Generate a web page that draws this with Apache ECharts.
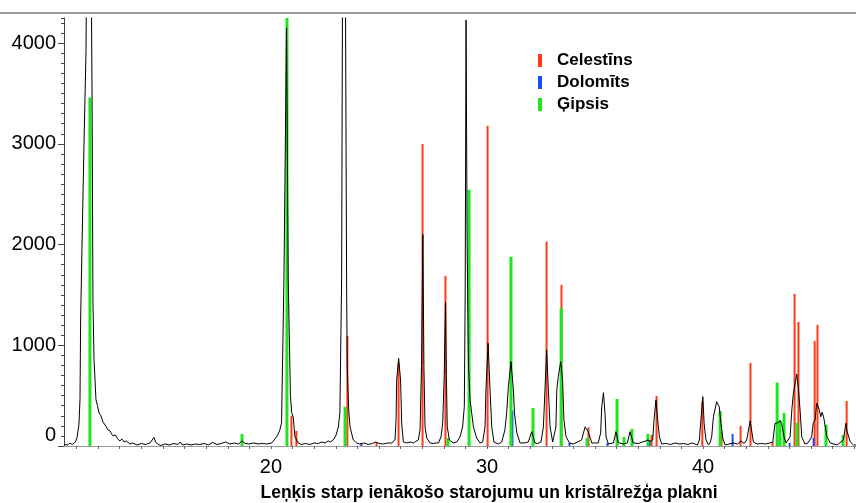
<!DOCTYPE html>
<html>
<head>
<meta charset="utf-8">
<script src="https://cdn.jsdelivr.net/npm/echarts@6/dist/echarts.min.js"></script>
<style>
  html, body { margin: 0; padding: 0; background: #fff; }
  #chart { width: 856px; height: 503px; }
</style>
</head>
<body>
<div id="chart"></div>
<script>
// measured diffraction trace: [2theta, counts]
const trace = [
  [10.42, 15], [10.5, 20], [10.6, 10], [10.7, 30], [10.8, 15], [10.88, 30], [10.95, 40], [11.02, 80],
  [11.11, 210], [11.16, 460], [11.19, 1250], [11.25, 1950], [11.34, 2940], [11.44, 3940], [11.57, 9000],
  [11.69, 4400], [11.72, 3440], [11.76, 1450], [11.81, 860], [11.9, 460], [11.97, 400], [12.04, 330],
  [12.13, 300], [12.22, 240], [12.3, 250], [12.38, 190], [12.45, 160], [12.55, 150], [12.62, 120],
  [12.69, 100], [12.8, 110], [12.9, 70], [13.01, 50], [13.1, 70], [13.2, 40], [13.3, 50], [13.47, 20],
  [13.6, 30], [13.8, 10], [14.0, 25], [14.2, 15], [14.4, 30], [14.5, 60], [14.58, 85], [14.66, 40],
  [14.75, 20], [14.9, 5], [15.1, 20], [15.3, 10], [15.5, 25], [15.7, 15], [15.8, 40], [15.9, 10],
  [16.1, 20], [16.3, 10], [16.5, 20], [16.7, 15], [16.9, 25], [17.1, 10], [17.3, 35], [17.5, 15],
  [17.7, 25], [17.9, 40], [18.1, 20], [18.3, 30], [18.5, 20], [18.66, 50], [18.8, 25], [19.0, 20],
  [19.2, 30], [19.4, 20], [19.6, 25], [19.8, 20], [20.03, 30],
  [20.26, 90], [20.4, 150], [20.49, 230], [20.6, 1650], [20.72, 4150], [20.8, 1650], [20.9, 500],
  [20.96, 330], [21.03, 290], [21.11, 90], [21.26, 30], [21.4, 15],
  [21.6, 25], [21.8, 15], [22.0, 30], [22.2, 25], [22.35, 40], [22.5, 30], [22.65, 50], [22.75, 40],
  [22.88, 60], [23.0, 100], [23.12, 190], [23.19, 330], [23.27, 1650], [23.31, 4400], [23.38, 8000],
  [23.45, 4400], [23.5, 1650], [23.53, 785], [23.6, 350], [23.66, 190], [23.81, 60], [23.97, 30],
  [24.1, 20], [24.3, 30], [24.5, 15], [24.7, 25], [24.85, 40], [24.92, 50], [25.0, 25], [25.2, 20],
  [25.4, 30], [25.59, 30], [25.74, 60], [25.79, 260], [25.82, 655], [25.91, 870], [26.0, 655],
  [26.05, 230], [26.13, 40], [26.28, 30],
  [26.45, 40], [26.6, 30], [26.7, 45], [26.82, 60], [26.9, 160], [26.97, 800], [27.03, 2100],
  [27.08, 800], [27.13, 190], [27.21, 80], [27.36, 30], [27.5, 25], [27.65, 30], [27.75, 30],
  [27.87, 90], [27.95, 230], [28.02, 700], [28.08, 1430], [28.12, 700], [28.16, 190], [28.26, 60],
  [28.44, 30],
  [28.6, 40], [28.75, 90], [28.87, 190], [28.95, 390], [28.99, 1500], [29.03, 4230], [29.08, 2000],
  [29.14, 800], [29.22, 450], [29.29, 330], [29.37, 190], [29.52, 80], [29.68, 30], [29.8, 40],
  [29.91, 190], [29.95, 557], [30.05, 1020], [30.14, 557], [30.22, 190], [30.32, 40], [30.52, 20],
  [30.68, 40], [30.83, 160], [30.91, 330], [30.99, 590], [31.11, 838], [31.22, 557], [31.27, 330],
  [31.38, 130], [31.53, 30], [31.75, 30], [31.91, 40], [32.07, 142], [32.22, 30], [32.35, 25],
  [32.5, 40], [32.61, 190], [32.69, 590], [32.76, 954], [32.84, 557], [32.92, 190], [33.04, 40],
  [33.1, 40], [33.19, 190], [33.23, 557], [33.3, 690], [33.41, 838], [33.5, 655], [33.56, 260],
  [33.66, 90], [33.82, 30], [34.0, 20], [34.2, 40], [34.38, 60], [34.54, 190], [34.69, 140],
  [34.85, 30], [35.0, 30], [35.15, 30], [35.26, 130], [35.31, 390], [35.39, 530], [35.46, 330],
  [35.51, 90], [35.62, 20],
  [35.85, 30], [35.97, 142], [36.08, 33], [36.3, 20], [36.5, 30], [36.62, 142], [36.77, 30],
  [37.0, 25], [37.2, 40], [37.35, 50], [37.45, 60], [37.55, 45], [37.67, 60], [37.73, 260],
  [37.82, 457], [37.9, 260], [37.98, 90], [38.09, 20],
  [38.3, 25], [38.5, 15], [38.7, 30], [38.9, 20], [39.1, 25], [39.3, 15], [39.5, 30], [39.74, 10],
  [39.83, 60], [39.89, 230], [39.99, 490], [40.05, 225], [40.09, 140], [40.14, 60], [40.25, 10],
  [40.32, 30], [40.4, 90], [40.48, 290], [40.63, 440], [40.75, 390], [40.83, 225], [40.91, 80],
  [41.02, 10],
  [41.2, 20], [41.4, 30], [41.6, 20], [41.76, 50], [41.9, 25], [42.02, 60], [42.18, 250], [42.33, 40],
  [42.5, 20], [42.7, 25], [42.9, 20], [43.1, 30], [43.23, 40], [43.33, 225], [43.41, 240],
  [43.48, 230], [43.56, 250], [43.64, 225], [43.75, 90], [43.84, 30],
  [44.03, 90], [44.11, 360], [44.18, 520], [44.34, 715], [44.42, 555], [44.49, 360], [44.57, 90],
  [44.72, 20], [44.85, 30], [45.03, 90], [45.1, 225], [45.19, 260], [45.26, 425], [45.31, 440],
  [45.38, 360], [45.45, 290], [45.51, 335], [45.58, 290], [45.66, 190], [45.74, 90], [45.89, 30],
  [46.2, 10], [46.5, 60], [46.61, 225], [46.65, 160], [46.73, 142], [46.81, 42], [46.96, 10],
  [47.08, 10]
];

// reference patterns (stick lines)
const celestins = [
  [20.97, 300], [21.2, 150], [23.56, 1093], [24.91, 40], [25.93, 825], [27.04, 3000], [28.1, 1690],
  [30.05, 3180], [32.78, 2030], [33.47, 1600], [34.72, 185], [37.64, 110], [37.87, 497], [39.99, 440],
  [40.88, 140], [41.76, 200], [42.22, 825], [43.24, 40], [44.26, 1510], [44.44, 1232], [45.19, 1044],
  [45.32, 1203], [46.67, 447]
];
const dolomits = [
  [24.21, 30], [31.2, 350], [33.84, 30], [35.6, 30], [37.55, 60], [41.39, 120], [44.03, 30], [45.14, 80]
];
const gipsis = [
  [11.62, 3460], [18.66, 120], [20.74, 4400], [23.43, 390], [28.19, 80], [29.17, 2545], [31.11, 1879],
  [32.13, 378], [33.43, 1372], [34.63, 80], [36.02, 467], [36.34, 90], [36.71, 170], [37.45, 120],
  [40.79, 348], [43.43, 630], [43.56, 258], [43.75, 328], [44.35, 230], [45.69, 210], [46.48, 110]
];

const xLabels = [20, 30, 40];
const xTicks = [11, 12, 13, 14, 15, 16, 17, 18, 19, 20, 21, 22, 23, 24, 25, 26, 27, 28, 29, 30,
  31, 32, 33, 34, 35, 36, 37, 38, 39, 40, 41, 42, 43, 44, 45, 46, 47];
const yLabels = [0, 1000, 2000, 3000, 4000];

const FONT = "'Liberation Sans', Arial, sans-serif";
const RED = '#ff3a14', BLUE = '#1a4cff', GREEN = '#1ee61e';

const chart = echarts.init(document.getElementById('chart'));

function stick(name, data, color, width) {
  return {
    name: name,
    type: 'bar',
    data: data,
    barWidth: width,
    barGap: '-100%',
    itemStyle: { color: color },
    clip: true,
    silent: true,
    z: 2
  };
}

chart.setOption({
  animation: false,
  backgroundColor: '#fff',
  grid: { left: 64, right: 0, top: 18, bottom: 57 },
  legend: {
    orient: 'vertical',
    left: 533,
    top: 46,
    icon: 'rect',
    itemWidth: 4,
    itemHeight: 13,
    itemGap: 3,
    data: ['Celestīns', 'Dolomīts', 'Ģipsis'],
    textStyle: {
      fontFamily: FONT, fontWeight: 'bold', fontSize: 17, lineHeight: 19,
      color: '#000', padding: [0, 0, 0, 10]
    }
  },
  xAxis: {
    type: 'value',
    min: 10.42,
    max: 47.08,
    axisLine: { lineStyle: { color: '#999', width: 1 } },
    axisTick: { customValues: xTicks, length: 3, lineStyle: { color: '#666' } },
    axisLabel: { customValues: xLabels, fontFamily: FONT, fontSize: 20, color: '#000', margin: 11 },
    splitLine: { show: false }
  },
  yAxis: [
    {
      type: 'value',
      min: 0,
      max: 4250,
      position: 'left',
      axisLine: { show: true, lineStyle: { color: '#444', width: 1 } },
      axisTick: { customValues: yLabels, length: 6, lineStyle: { color: '#444' } },
      axisLabel: {
        customValues: yLabels,
        fontFamily: FONT,
        fontSize: 20,
        color: '#000',
        margin: 8,
        formatter: function (v) { return v === 0 ? '{z|0}' : String(v); },
        rich: { z: { fontFamily: FONT, fontSize: 20, color: '#000', padding: [0, 0, 22, 0] } }
      },
      splitLine: { show: false }
    },
    {
      type: 'value',
      min: 0,
      max: 4250,
      interval: 100,
      position: 'left',
      axisLine: { show: false },
      axisTick: { length: 3, lineStyle: { color: '#444' } },
      axisLabel: { show: false },
      splitLine: { show: false }
    }
  ],
  graphic: [
    {
      type: 'line',
      shape: { x1: 0, y1: 13, x2: 856, y2: 13 },
      style: { stroke: '#9a9a9a', lineWidth: 2 },
      silent: true
    },
    {
      type: 'text',
      x: 489,
      y: 493,
      style: {
        text: 'Leņķis starp ienākošo starojumu un kristālrežģa plakni',
        font: "bold 17.5px 'Liberation Sans', Arial, sans-serif",
        fill: '#000',
        align: 'center',
        verticalAlign: 'middle'
      }
    }
  ],
  series: [
    stick('Celestīns', celestins, RED, 2),
    stick('Dolomīts', dolomits, BLUE, 2),
    stick('Ģipsis', gipsis, GREEN, 3),
    {
      name: 'trace',
      type: 'line',
      data: trace,
      symbol: 'none',
      clip: true,
      lineStyle: { color: '#000', width: 1 },
      silent: true,
      z: 3
    }
  ]
});
</script>
</body>
</html>
